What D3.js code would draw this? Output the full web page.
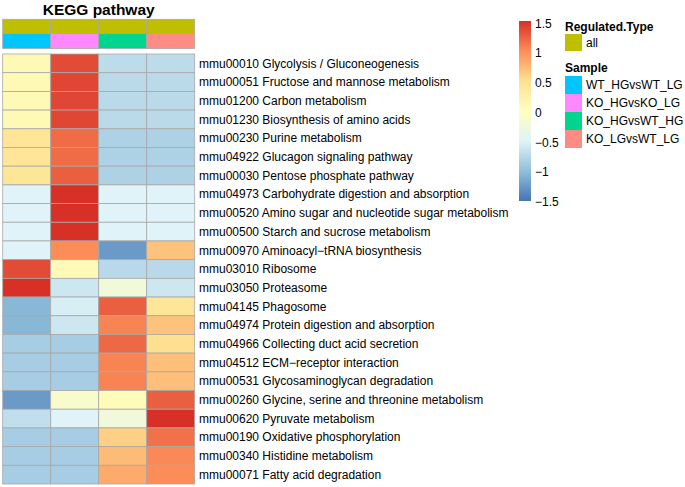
<!DOCTYPE html>
<html lang="en">
<head>
<meta charset="UTF-8">
<title>KEGG pathway</title>
<style>
  body { margin: 0; background: #fff; }
  text { font-family: "Liberation Sans", Arial, sans-serif; fill: #000; }
</style>
</head>
<body>
<svg id="chart" width="685" height="487"></svg>
<script src="https://d3js.org/d3.v7.min.js"></script>
<script>
// samples (columns)
var samples = ["WT_HGvsWT_LG", "KO_HGvsKO_LG", "KO_HGvsWT_HG", "KO_LGvsWT_LG"];
var sampleColors = ["#00C6FF", "#FF88FF", "#00D58F", "#FF8B85"];
var regulatedTypes = ["all"];
var regulatedColors = ["#BFBF00"];

// pathways (rows)
var pathways = [
  "mmu00010 Glycolysis / Gluconeogenesis",
  "mmu00051 Fructose and mannose metabolism",
  "mmu01200 Carbon metabolism",
  "mmu01230 Biosynthesis of amino acids",
  "mmu00230 Purine metabolism",
  "mmu04922 Glucagon signaling pathway",
  "mmu00030 Pentose phosphate pathway",
  "mmu04973 Carbohydrate digestion and absorption",
  "mmu00520 Amino sugar and nucleotide sugar metabolism",
  "mmu00500 Starch and sucrose metabolism",
  "mmu00970 Aminoacyl\u2212tRNA biosynthesis",
  "mmu03010 Ribosome",
  "mmu03050 Proteasome",
  "mmu04145 Phagosome",
  "mmu04974 Protein digestion and absorption",
  "mmu04966 Collecting duct acid secretion",
  "mmu04512 ECM\u2212receptor interaction",
  "mmu00531 Glycosaminoglycan degradation",
  "mmu00260 Glycine, serine and threonine metabolism",
  "mmu00620 Pyruvate metabolism",
  "mmu00190 Oxidative phosphorylation",
  "mmu00340 Histidine metabolism",
  "mmu00071 Fatty acid degradation"
];

// row z-scores, one array per sample
var wtHG = [0.10, 0.10, 0.10, 0.10, 0.42, 0.42, 0.40, -0.50, -0.50, -0.50, -0.50, 1.35, 1.50, -1.05, -1.05, -0.87, -0.87, -0.87, -1.25, -0.70, -0.87, -0.87, -0.87];
var koHG = [1.35, 1.38, 1.38, 1.38, 1.18, 1.18, 1.25, 1.50, 1.50, 1.50, 1.00, 0.08, -0.62, -0.55, -0.62, -0.87, -0.87, -0.87, -0.12, -0.50, -0.87, -0.87, -0.87];
var koHGwt = [-0.72, -0.74, -0.74, -0.74, -0.82, -0.82, -0.82, -0.50, -0.50, -0.50, -1.25, -0.75, -0.22, 1.25, 1.05, 1.20, 1.05, 1.05, 0.05, -0.25, 0.60, 0.72, 0.82];
var koLG = [-0.72, -0.74, -0.74, -0.74, -0.82, -0.82, -0.82, -0.50, -0.50, -0.50, 0.68, -0.75, -0.62, 0.40, 0.68, 0.50, 0.70, 0.70, 1.25, 1.50, 1.15, 1.02, 1.00];
var values = [wtHG, koHG, koHGwt, koLG];

var legendTicks = [1.5, 1, 0.5, 0, -0.5, -1, -1.5];
var palette = ["#4575B4", "#91BFDB", "#E0F3F8", "#FFFFBF", "#FEE090", "#FC8D59", "#D73027"];

var svg = d3.select("#chart");
var color = d3.scaleLinear().domain([-1.5, -1, -0.5, 0, 0.5, 1, 1.5]).range(palette).clamp(true);

var x = d3.scaleBand().domain(samples).range([2.7, 194.7]);
var y = d3.scaleBand().domain(pathways).range([54, 484]);

// title
svg.append("text")
  .attr("x", (x.range()[0] + x.range()[1]) / 2)
  .attr("y", 15)
  .attr("text-anchor", "middle")
  .style("font-weight", "bold")
  .style("font-size", "15.5px")
  .text("KEGG pathway");

// column annotations
svg.append("g").selectAll("rect")
  .data(samples)
  .enter().append("rect")
  .attr("x", function(d) { return x(d); })
  .attr("y", 19.3)
  .attr("width", x.bandwidth())
  .attr("height", 14.3)
  .attr("fill", regulatedColors[0])
  .attr("stroke", "#A8A8A8")
  .attr("stroke-width", 0.8);

svg.append("g").selectAll("rect")
  .data(samples)
  .enter().append("rect")
  .attr("x", function(d) { return x(d); })
  .attr("y", 33.6)
  .attr("width", x.bandwidth())
  .attr("height", 14.9)
  .attr("fill", function(d, i) { return sampleColors[i]; })
  .attr("stroke", "#A8A8A8")
  .attr("stroke-width", 0.8);

// heatmap cells
var cells = [];
samples.forEach(function(s, i) {
  pathways.forEach(function(p, j) {
    cells.push({ sample: s, pathway: p, value: values[i][j] });
  });
});

svg.append("g").selectAll("rect")
  .data(cells)
  .enter().append("rect")
  .attr("x", function(d) { return x(d.sample); })
  .attr("y", function(d) { return y(d.pathway); })
  .attr("width", x.bandwidth())
  .attr("height", y.bandwidth())
  .attr("fill", function(d) { return color(d.value); })
  .attr("stroke", "#A8A8A8")
  .attr("stroke-width", 0.8);

// row labels
svg.append("g").selectAll("text")
  .data(pathways)
  .enter().append("text")
  .attr("x", 199)
  .attr("y", function(d) { return y(d) + y.bandwidth() / 2; })
  .attr("dy", "0.35em")
  .style("font-size", "12px")
  .text(function(d) { return d; });

// color bar
var barY = d3.scaleLinear().domain([-1.5, 1.5]).range([201, 21]);
var defs = svg.append("defs");
var grad = defs.append("linearGradient")
  .attr("id", "bar")
  .attr("x1", 0).attr("y1", 1).attr("x2", 0).attr("y2", 0);
grad.selectAll("stop")
  .data(color.domain())
  .enter().append("stop")
  .attr("offset", function(d) { return (d + 1.5) / 3; })
  .attr("stop-color", function(d) { return color(d); });

svg.append("rect")
  .attr("x", 519)
  .attr("y", barY(1.5))
  .attr("width", 12)
  .attr("height", barY(-1.5) - barY(1.5))
  .attr("fill", "url(#bar)");

var tickY = d3.scaleLinear().domain([-1.5, 1.5]).range([201.7, 23.5]);
svg.append("g").selectAll("text")
  .data(legendTicks)
  .enter().append("text")
  .attr("x", 535)
  .attr("y", function(d) { return tickY(d); })
  .attr("dy", "0.35em")
  .style("font-size", "12px")
  .text(function(d) { return d < 0 ? "\u2212" + Math.abs(d) : d; });

// annotation legends
var leg = svg.append("g").attr("transform", "translate(565,0)");
leg.append("text")
  .attr("x", 0).attr("y", 27).attr("dy", "0.35em")
  .style("font-size", "12px").style("font-weight", "bold")
  .text("Regulated.Type");
leg.selectAll("rect.reg")
  .data(regulatedTypes)
  .enter().append("rect")
  .attr("class", "reg")
  .attr("x", 0)
  .attr("y", function(d, i) { return 34 + i * 18; })
  .attr("width", 17).attr("height", 17)
  .attr("fill", function(d, i) { return regulatedColors[i]; });
leg.selectAll("text.reg")
  .data(regulatedTypes)
  .enter().append("text")
  .attr("class", "reg")
  .attr("x", 21)
  .attr("y", function(d, i) { return 42.5 + i * 18; })
  .attr("dy", "0.35em")
  .style("font-size", "12px")
  .text(function(d) { return d; });

leg.append("text")
  .attr("x", 0).attr("y", 68).attr("dy", "0.35em")
  .style("font-size", "12px").style("font-weight", "bold")
  .text("Sample");
leg.selectAll("rect.smp")
  .data(samples)
  .enter().append("rect")
  .attr("class", "smp")
  .attr("x", 0)
  .attr("y", function(d, i) { return 76 + i * 18; })
  .attr("width", 17).attr("height", 18)
  .attr("fill", function(d, i) { return sampleColors[i]; });
leg.selectAll("text.smp")
  .data(samples)
  .enter().append("text")
  .attr("class", "smp")
  .attr("x", 21)
  .attr("y", function(d, i) { return 85 + i * 18; })
  .attr("dy", "0.35em")
  .style("font-size", "12px")
  .text(function(d) { return d; });
</script>
</body>
</html>
